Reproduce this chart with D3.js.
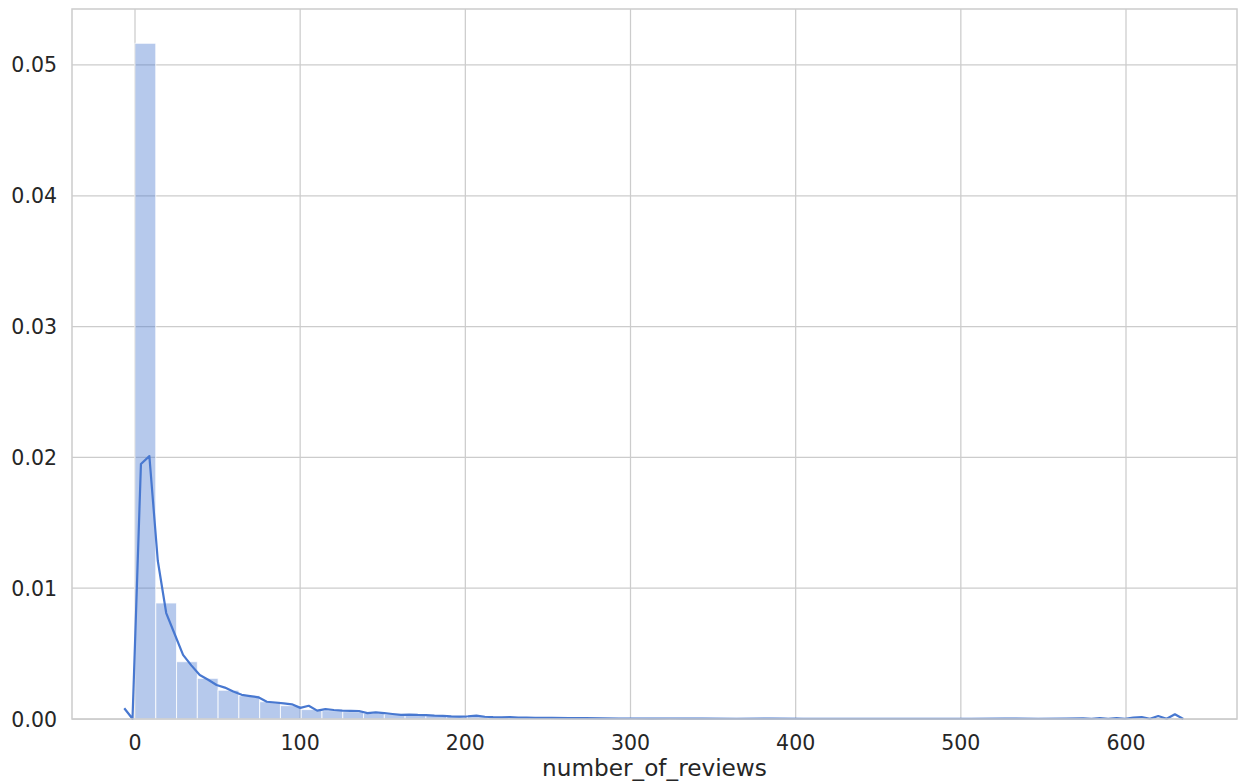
<!DOCTYPE html>
<html>
<head>
<meta charset="utf-8">
<script src="https://cdn.jsdelivr.net/npm/d3@7"></script>
<style>
  body { margin: 0; background: #fff; }
  text { font-family: "DejaVu Sans", sans-serif; fill: #262626; }
</style>
</head>
<body>
<div id="chart"></div>
<script>
// histogram: 50 bins from min to max of number_of_reviews (density)
const binStart = 0;
const binEnd = 629;
const binDensity = [
  0.05166, 0.00887, 0.00438, 0.00311, 0.00220, 0.00178, 0.00132, 0.00102, 0.00072, 0.00064,
  0.00056, 0.00043, 0.00036, 0.00030, 0.00026, 0.00022, 0.00018, 0.00015, 0.00012, 0.00010,
  0.00009, 0.00007, 0.00006, 0.00005, 0.00005, 0.00004, 0.00004, 0.00004, 0.00003, 0.00003,
  0.00003, 0.00003, 0.00002, 0.00002, 0.00002, 0.00002, 0.00002, 0.00002, 0.00002, 0.00002,
  0.00002, 0.00002, 0.00002, 0.00002, 0.00002, 0.00003, 0.00004, 0.00006, 0.00008, 0.00012
];

// kde curve
const kdeX = [
  -6.5, -1.5, 3.6, 8.7, 13.8, 18.9, 24.0, 29.1, 34.1, 39.2,
  44.3, 49.4, 54.4, 59.5, 64.6, 69.7, 74.7, 79.8, 84.9, 90.0,
  95.0, 100.1, 105.2, 110.3, 115.3, 120.4, 125.5, 130.6, 135.6, 140.7,
  145.8, 150.9, 155.9, 161.0, 166.1, 171.2, 176.2, 181.3, 186.4, 191.5,
  196.5, 201.6, 206.7, 211.8, 216.8, 221.9, 227.0, 232.1, 237.1, 242.2,
  252.4, 262.6, 272.7, 282.9, 293.0, 303.2, 313.3, 323.5, 333.6, 343.8,
  364.1, 384.4, 404.7, 425.0, 445.3, 465.6, 485.9, 506.2, 526.5, 546.8,
  563.9, 574.0, 579.1, 584.2, 589.2, 594.3, 599.4, 604.4, 609.5, 614.5,
  619.5, 624.6, 629.6, 634.7
];
const kdeY = [
  0.00082, 0.00002, 0.0195, 0.0201, 0.0121, 0.0081, 0.0065, 0.0049, 0.0041, 0.00336,
  0.0030, 0.0026, 0.0024, 0.0021, 0.00185, 0.00175, 0.00166, 0.00132, 0.00126, 0.0012,
  0.00112, 0.00085, 0.00101, 0.00064, 0.00076, 0.00069, 0.00064, 0.00062, 0.00061, 0.00045,
  0.00050, 0.00045, 0.00038, 0.00031, 0.00034, 0.00031, 0.00030, 0.00026, 0.00024, 0.00020,
  0.00018, 0.00021, 0.00026, 0.00017, 0.00014, 0.00013, 0.00014, 0.00011, 0.00010, 0.00008,
  0.00008, 0.00007, 0.00006, 0.00005, 0.00004, 0.00004, 0.00003, 0.00004, 0.00003, 0.00003,
  0.00002, 0.00003, 0.00002, 0.00002, 0.00002, 0.00002, 0.00002, 0.00002, 0.00003, 0.00002,
  0.00003, 0.00005, 0.00002, 0.00006, 0.00002, 0.00007, 0.00002, 0.00010, 0.00015, 0.00002,
  0.00023, 0.00002, 0.00036, 0.0
];

const xTicks = [0, 100, 200, 300, 400, 500, 600];
const yTicks = [0, 0.01, 0.02, 0.03, 0.04, 0.05];
const xLabel = "number_of_reviews";

const width = 1239, height = 782;
const mLeft = 72, mRight = 1237, mTop = 9, mBottom = 719;
const color = "#4878d0";
const gridColor = "#cccccc";

const svg = d3.select("#chart").append("svg")
  .attr("width", width)
  .attr("height", height);

const x = d3.scaleLinear().domain([-38.14, 667.2]).range([mLeft, mRight]);
const y = d3.scaleLinear().domain([0, 0.05428]).range([mBottom, mTop]);

// grid
svg.append("g").selectAll("line")
  .data(xTicks).join("line")
  .attr("x1", d => x(d)).attr("x2", d => x(d))
  .attr("y1", mTop).attr("y2", mBottom)
  .attr("stroke", gridColor).attr("stroke-width", 1.25);
svg.append("g").selectAll("line")
  .data(yTicks).join("line")
  .attr("x1", mLeft).attr("x2", mRight)
  .attr("y1", d => y(d)).attr("y2", d => y(d))
  .attr("stroke", gridColor).attr("stroke-width", 1.25);

// bars
const bw = (binEnd - binStart) / binDensity.length;
svg.append("g").selectAll("rect")
  .data(binDensity).join("rect")
  .attr("x", (d, i) => x(binStart + i * bw))
  .attr("width", x(bw) - x(0))
  .attr("y", d => y(d))
  .attr("height", d => y(0) - y(d))
  .attr("fill", color).attr("fill-opacity", 0.4)
  .attr("stroke", "#ffffff").attr("stroke-opacity", 0.8).attr("stroke-width", 1);

// kde line
const kde = kdeX.map((v, i) => [v, kdeY[i]]);
svg.append("path")
  .datum(kde)
  .attr("fill", "none")
  .attr("stroke", color)
  .attr("stroke-width", 2.2)
  .attr("stroke-linejoin", "round")
  .attr("d", d3.line().x(d => x(d[0])).y(d => y(d[1])));

// frame
svg.append("rect")
  .attr("x", mLeft).attr("y", mTop)
  .attr("width", mRight - mLeft).attr("height", mBottom - mTop)
  .attr("fill", "none").attr("stroke", gridColor).attr("stroke-width", 1.5);

// tick labels
svg.append("g").selectAll("text")
  .data(xTicks).join("text")
  .attr("x", d => x(d)).attr("y", 750)
  .attr("text-anchor", "middle")
  .style("font-size", "20.5px")
  .text(d => d);
svg.append("g").selectAll("text")
  .data(yTicks).join("text")
  .attr("x", 57).attr("y", d => y(d) + 7.5)
  .attr("text-anchor", "end")
  .style("font-size", "20.5px")
  .text(d3.format(".2f"));

svg.append("text")
  .attr("x", (mLeft + mRight) / 2).attr("y", 776)
  .attr("text-anchor", "middle")
  .style("font-size", "23.2px")
  .text(xLabel);
</script>
</body>
</html>
